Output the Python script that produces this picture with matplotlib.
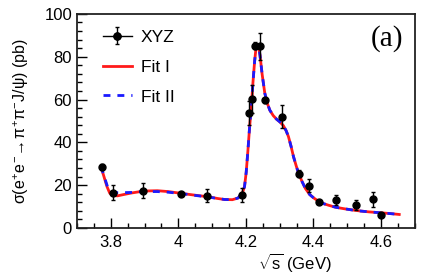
import matplotlib
matplotlib.use('Agg')
import matplotlib.pyplot as plt
from matplotlib.ticker import MultipleLocator
from matplotlib.lines import Line2D

plt.rcParams['font.family'] = ['Liberation Sans', 'DejaVu Sans']
plt.rcParams['mathtext.fontset'] = 'custom'
plt.rcParams['mathtext.rm'] = 'Liberation Sans'
plt.rcParams['mathtext.it'] = 'Liberation Sans'
plt.rcParams['mathtext.sf'] = 'Liberation Sans'

# XYZ data points
energy = [3.773, 3.808, 3.896, 4.008, 4.086, 4.189, 4.208, 4.217, 4.226, 4.242,
          4.258, 4.308, 4.358, 4.387, 4.416, 4.467, 4.527, 4.575, 4.600]
xsec = [28.5, 16.4, 17.3, 16.0, 15.0, 15.4, 53.7, 60.4, 85.2, 84.8,
        59.7, 52.0, 25.4, 19.8, 12.1, 13.1, 10.6, 13.4, 6.2]
xsec_err = [1.5, 3.5, 3.5, 1.0, 3.0, 3.5, 5.5, 6.5, 1.5, 6.5,
            1.2, 5.5, 1.5, 3.0, 1.0, 2.5, 2.3, 3.5, 1.0]

# fit curves
fit_x = [3.771, 3.780, 3.789, 3.797, 3.804, 3.820, 3.838, 3.860, 3.888, 3.910,
         3.938, 3.970, 4.007, 4.050, 4.087, 4.115, 4.137, 4.160, 4.177, 4.190,
         4.196, 4.201, 4.206, 4.211, 4.216, 4.221, 4.226, 4.230, 4.234, 4.238,
         4.242, 4.248, 4.256, 4.264, 4.271, 4.281, 4.291, 4.301, 4.311, 4.319,
         4.326, 4.334, 4.341, 4.349, 4.356, 4.366, 4.376, 4.389, 4.401, 4.413,
         4.425, 4.445, 4.465, 4.490, 4.515, 4.540, 4.565, 4.590, 4.614, 4.635,
         4.654]
fit1_y = [28.7, 24.0, 19.3, 16.3, 15.2, 15.0, 15.6, 16.3, 17.0, 17.3,
          17.4, 17.0, 16.2, 15.3, 14.6, 13.8, 13.3, 13.2, 14.0, 16.5,
          19.3, 26.0, 36.0, 47.0, 56.0, 68.0, 78.0, 84.0, 85.8, 84.5,
          80.5, 72.0, 63.0, 58.0, 55.0, 52.5, 50.8, 49.5, 47.8, 45.5,
          42.7, 38.0, 33.3, 29.0, 25.5, 21.8, 18.5, 15.6, 14.0, 12.7,
          11.6, 10.6, 9.7, 9.0, 8.4, 7.9, 7.5, 7.2, 6.9, 6.6,
          6.3]
fit2_y = [28.7, 24.5, 20.0, 17.5, 16.6, 16.5, 16.5, 16.6, 16.9, 17.0,
          17.0, 16.7, 16.1, 15.2, 14.5, 13.8, 13.3, 13.2, 14.0, 16.5,
          19.3, 26.0, 36.0, 47.0, 56.0, 68.0, 78.0, 84.0, 85.8, 84.5,
          80.5, 72.0, 63.0, 58.0, 55.0, 52.5, 50.8, 49.5, 47.8, 45.5,
          42.7, 38.0, 33.3, 29.0, 25.5, 21.8, 18.5, 15.6, 14.0, 12.7,
          11.6, 10.6, 9.7, 9.0, 8.4, 7.9, 7.5, 7.2, 6.9, 6.6,
          6.3]

fig = plt.figure(figsize=(4.25, 2.73), dpi=100)
ax = fig.add_axes([0.181, 0.165, 0.795, 0.784])

l1, = ax.plot(fit_x, fit1_y, color='#ff1a1a', lw=2.0, zorder=2)
l2, = ax.plot(fit_x, fit2_y, color='#1a1aff', lw=2.0, ls=(0, (2.5, 2.5)), zorder=3)
eb = ax.errorbar(energy, xsec, yerr=xsec_err, fmt='o', color='black', ms=5,
                 elinewidth=1.0, capsize=1.5, capthick=1.0, zorder=4)

ax.set_xlim(3.7, 4.7)
ax.set_ylim(0, 100)
ax.xaxis.set_minor_locator(MultipleLocator(0.05))
ax.yaxis.set_major_locator(MultipleLocator(20))
ax.yaxis.set_minor_locator(MultipleLocator(4))
ax.set_xticks([3.8, 4.0, 4.2, 4.4, 4.6])
ax.set_xticklabels(['3.8', '4', '4.2', '4.4', '4.6'])
ax.tick_params(which='both', direction='in', top=False, right=False, labelsize=12)
ax.tick_params(which='major', length=7, width=1.0)
ax.tick_params(which='minor', length=3.5, width=1.0)
ax.tick_params(axis='x', pad=5)
for s in ax.spines.values():
    s.set_linewidth(1.3)
    s.set_color('#222222')

ax.set_xlabel(r'$\sqrt{s}$ (GeV)', fontsize=12, va='center')
ax.xaxis.set_label_coords(0.645, -0.16)
ax.set_ylabel(r'$\sigma(e^{+}e^{-}\!\rightarrow\!\pi^{+}\pi^{-}J/\psi)$ (pb)', fontsize=11.5)
ax.yaxis.set_label_coords(-0.135, 0.5)

ax.text(0.965, 0.885, '(a)', transform=ax.transAxes, ha='right', va='center',
        fontsize=21, family='Liberation Serif')

xyz_handle = (Line2D([], [], color='black', lw=1.0, marker='o', ms=5), eb)
ax.legend([xyz_handle, l1, l2], ['XYZ', 'Fit I', 'Fit II'],
          loc='upper left', bbox_to_anchor=(0.03, 1.0), frameon=False,
          fontsize=12.5, handlelength=1.7, labelspacing=0.85, handletextpad=0.5)

fig.savefig('out.png', dpi=100)
